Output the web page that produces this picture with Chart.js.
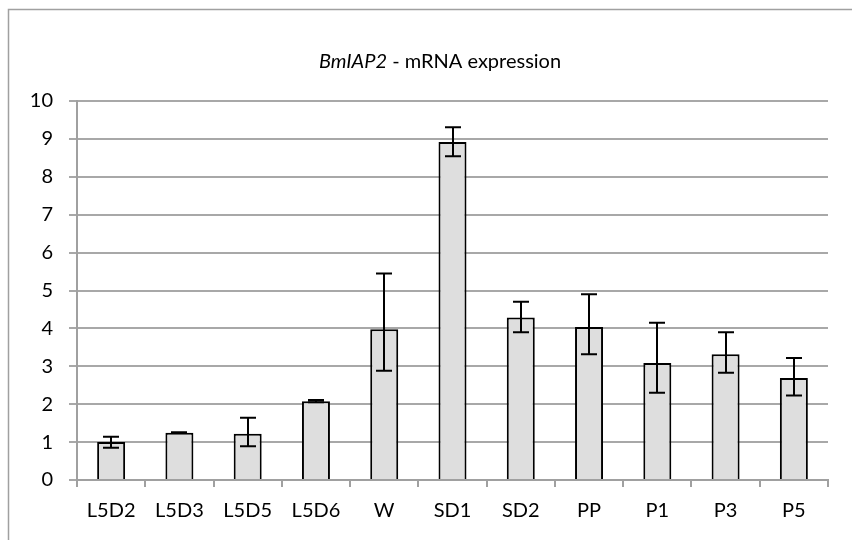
<!DOCTYPE html>
<html>
<head>
<meta charset="utf-8">
<script src="https://cdn.jsdelivr.net/npm/chart.js@4/dist/chart.umd.min.js"></script>
<style>
html,body{margin:0;padding:0;background:#fff;}
canvas{display:block;}
</style>
</head>
<body>
<canvas id="c" width="852" height="540"></canvas>
<script>
const categories = ['L5D2','L5D3','L5D5','L5D6','W','SD1','SD2','PP','P1','P3','P5'];
const values     = [1.00, 1.25, 1.22, 2.08, 3.98, 8.92, 4.29, 4.04, 3.09, 3.32, 2.69];
const errPlus    = [0.14, 0.01, 0.42, 0.03, 1.47, 0.39, 0.41, 0.86, 1.06, 0.58, 0.53];
const errMinus   = [0.15, 0.01, 0.33, 0.03, 1.10, 0.38, 0.39, 0.72, 0.79, 0.49, 0.46];
const yTicks     = [0,1,2,3,4,5,6,7,8,9,10];
const titleItalic = 'BmIAP2';
const titleRest   = ' - mRNA expression';

const FONT = 'Lato, "Liberation Sans", sans-serif';

const framePlugin = {
  id: 'frame',
  beforeDraw(chart) {
    const ctx = chart.ctx;
    ctx.save();
    ctx.fillStyle = '#ffffff';
    ctx.fillRect(0, 0, chart.width, chart.height);
    ctx.strokeStyle = '#a0a0a0';
    ctx.lineWidth = 1.5;
    ctx.beginPath();
    ctx.moveTo(8.5, chart.height + 5);
    ctx.lineTo(8.5, 9.5);
    ctx.lineTo(chart.width + 5, 9.5);
    ctx.stroke();
    ctx.restore();
  }
};

const titlePlugin = {
  id: 'mixedTitle',
  afterDraw(chart) {
    const ctx = chart.ctx;
    ctx.save();
    const size = 20;
    ctx.textBaseline = 'middle';
    ctx.fillStyle = '#000';
    ctx.font = 'italic ' + size + 'px ' + FONT;
    const w1 = ctx.measureText(titleItalic).width;
    ctx.font = size + 'px ' + FONT;
    const w2 = ctx.measureText(titleRest).width;
    const cx = 440, cy = 62;
    let x = cx - (w1 + w2) / 2;
    ctx.font = 'italic ' + size + 'px ' + FONT;
    ctx.textAlign = 'left';
    ctx.fillText(titleItalic, x, cy);
    ctx.font = size + 'px ' + FONT;
    ctx.fillText(titleRest, x + w1, cy);
    ctx.restore();
  }
};

const errorBarPlugin = {
  id: 'errorBars',
  afterDatasetsDraw(chart) {
    const ctx = chart.ctx;
    const meta = chart.getDatasetMeta(0);
    const ys = chart.scales.y;
    ctx.save();
    ctx.strokeStyle = '#000';
    ctx.lineWidth = 2;
    const cap = 8;
    meta.data.forEach((bar, i) => {
      const x = Math.round(bar.x) + 0.0;
      const yTop = ys.getPixelForValue(values[i] + errPlus[i]);
      const yBot = ys.getPixelForValue(values[i] - errMinus[i]);
      ctx.beginPath();
      ctx.moveTo(x, yTop); ctx.lineTo(x, yBot);
      ctx.moveTo(x - cap, yTop); ctx.lineTo(x + cap, yTop);
      ctx.moveTo(x - cap, yBot); ctx.lineTo(x + cap, yBot);
      ctx.stroke();
    });
    ctx.restore();
  }
};

new Chart(document.getElementById('c'), {
  type: 'bar',
  data: {
    labels: categories,
    datasets: [{
      data: values,
      backgroundColor: '#dedede',
      borderColor: '#000000',
      borderWidth: 2,
      categoryPercentage: 1.0,
      barPercentage: 0.41
    }]
  },
  options: {
    responsive: false,
    animation: false,
    layout: { padding: { left: 0, right: 24, top: 101, bottom: 0 } },
    plugins: {
      legend: { display: false },
      title: { display: false },
      tooltip: { enabled: false }
    },
    scales: {
      x: {
        offset: true,
        grid: {
          offset: true,
          drawOnChartArea: false,
          drawTicks: true,
          tickLength: 7,
          color: '#a0a0a0',
          lineWidth: 2
        },
        border: { color: '#a0a0a0', width: 2 },
        ticks: {
          color: '#000',
          font: { family: FONT, size: 20 },
          padding: 12,
          maxRotation: 0,
          autoSkip: false
        },
        afterFit(scale) { scale.height = 60; }
      },
      y: {
        min: 0,
        max: 10,
        afterBuildTicks(scale) { scale.ticks = yTicks.map(v => ({ value: v })); },
        grid: {
          color: '#a8a8a8',
          lineWidth: 2,
          drawTicks: true,
          tickLength: 8
        },
        border: { color: '#a0a0a0', width: 2 },
        ticks: {
          color: '#000',
          font: { family: FONT, size: 20 },
          padding: 16
        },
        afterFit(scale) { scale.width = 77; }
      }
    }
  },
  plugins: [framePlugin, titlePlugin, errorBarPlugin]
});
</script>
</body>
</html>
